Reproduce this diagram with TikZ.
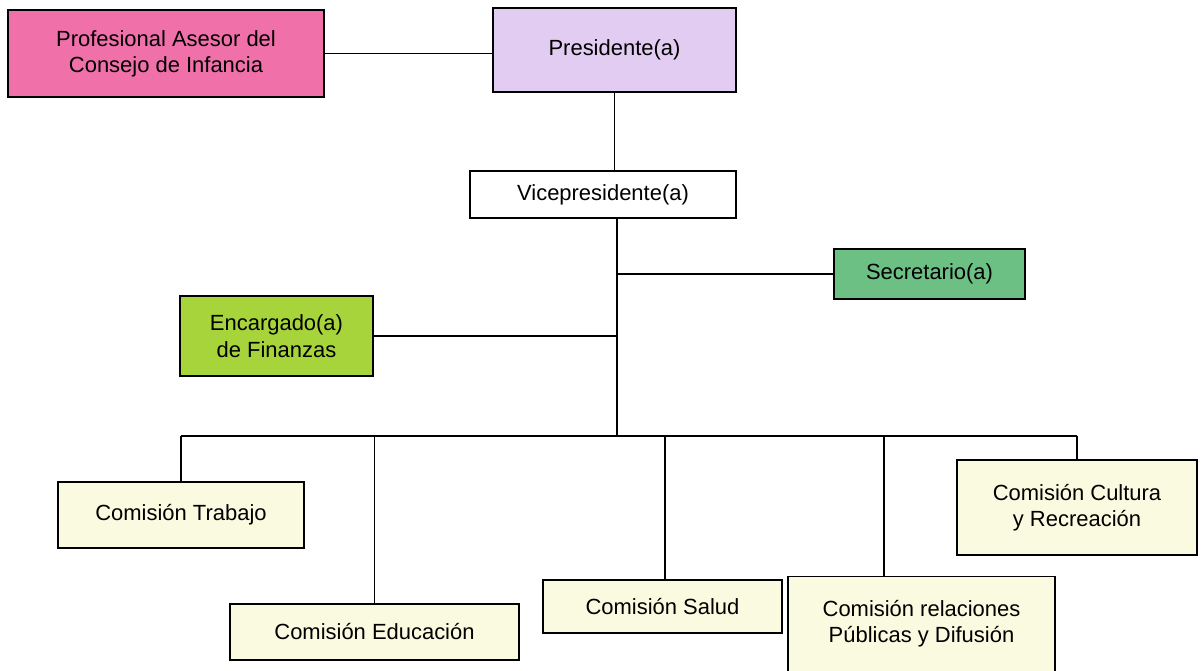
\documentclass[tikz,border=0pt]{standalone}
\usepackage{fontspec}
\setmainfont{Liberation Sans}
\usetikzlibrary{positioning}
\definecolor{asesor}{RGB}{240,112,170}
\definecolor{presi}{RGB}{226,204,242}
\definecolor{secre}{RGB}{108,192,132}
\definecolor{finan}{RGB}{166,212,58}
\definecolor{comi}{RGB}{250,250,224}
\tikzset{cargo/.style = {draw, line width=1.1pt, inner sep=0pt, align=center,
    font=\fontsize{12.5}{15}\selectfont},
  comision/.style = {cargo, fill=comi}}

\begin{document}
\begin{tikzpicture}[x=.02cm, y=-.02cm, line width=1.1pt]
        \useasboundingbox (0,0) rectangle (1202,670);
        \node[cargo, fill=asesor, minimum width=316*.02cm, minimum height=87*.02cm]
          (asesor) at (166,53.5) {Profesional Asesor del\\Consejo de Infancia};
        \node[cargo, fill=presi, minimum width=243*.02cm, minimum height=84*.02cm]
          (presi) at (614.5,50) {Presidente(a)};
        \node[cargo, fill=white, minimum width=266*.02cm, minimum height=47*.02cm]
          (vice) at (603,194.5) {Vicepresidente(a)};
        \node[cargo, fill=secre, minimum width=191*.02cm, minimum height=50*.02cm]
          (secre) at (929.5,274) {Secretario(a)};
        \node[cargo, fill=finan, minimum width=193*.02cm, minimum height=80*.02cm]
          (finan) at (276.5,336) {Encargado(a)\\de Finanzas};
        \coordinate (bus) at (617,436);
        % comisiones
        \node[comision, minimum width=246*.02cm, minimum height=66*.02cm]
          (trabajo) at (181,515) {Comisión Trabajo};
        \node[comision, minimum width=289*.02cm, minimum height=56*.02cm]
          (educa) at (374.5,632) {Comisión Educación};
        \node[comision, minimum width=239*.02cm, minimum height=53*.02cm]
          (salud) at (662.5,606.5) {Comisión Salud};
        \node[comision, minimum width=267*.02cm, minimum height=95*.02cm]
          (relac) at (921.5,624) {Comisión relaciones\\Públicas y Difusión};
        \node[comision, minimum width=240*.02cm, minimum height=95*.02cm]
          (cultura) at (1077,507.5) {Comisión Cultura\\y Recreación};
        % lineas
        \draw (asesor.east) -- (asesor.east -| presi.west);
        \draw (presi.south) -- (presi.south |- vice.north);
        \draw (vice.south -| bus) -- (bus);
        \draw (secre.west) -- (secre.west -| bus);
        \draw (finan.east) -- (finan.east -| bus);
        \draw (trabajo.north |- bus) -- (cultura.north |- bus);
        \draw (trabajo.north) -- (trabajo.north |- bus);
        \draw (educa.north) -- (educa.north |- bus);
        \draw ([xshift=.05cm]salud.north) -- ([xshift=.05cm]salud.north |- bus);
        \draw ([xshift=-.75cm]relac.north) -- ([xshift=-.75cm]relac.north |- bus);
        \draw (cultura.north) -- (cultura.north |- bus);
      \end{tikzpicture}
\end{document}
